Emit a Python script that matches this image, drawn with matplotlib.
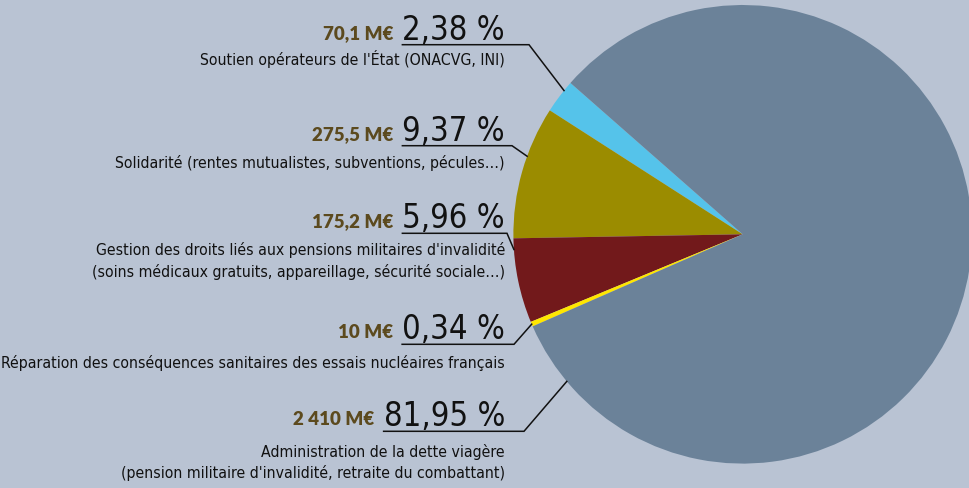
import matplotlib
matplotlib.use('Agg')
import matplotlib.pyplot as plt
from matplotlib import font_manager as fm
import numpy as np

# ---- data ----
descriptions = [
    ["Soutien opérateurs de l'État (ONACVG, INI)"],
    ["Solidarité (rentes mutualistes, subventions, pécules…)"],
    ["Gestion des droits liés aux pensions militaires d'invalidité",
     "(soins médicaux gratuits, appareillage, sécurité sociale…)"],
    ["Réparation des conséquences sanitaires des essais nucléaires français"],
    ["Administration de la dette viagère",
     "(pension militaire d'invalidité, retraite du combattant)"],
]
amounts = [70.1, 275.5, 175.2, 10, 2410]
amount_labels = ["70,1 M€", "275,5 M€", "175,2 M€", "10 M€", "2 410 M€"]
percent_labels = ["2,38 %", "9,37 %", "5,96 %", "0,34 %", "81,95 %"]
colors = ["#55c3ea", "#9b8c00", "#72191b", "#ffe600", "#6b8299"]

# ---- layout (pixels, y from top) ----
W, H = 969, 489
BG = "#b9c3d3"
center_px = (742.7, 235.3)
radius_px = 229.3
start_angle = 138.7
underline_y = [45.7, 146.7, 234.3, 345.3, 432.3]
elbow_x = [529, 512, 507, 514, 524]
anchor_frac = [0.29, 0.38, 0.13, 0.5, 0.055]
desc_offset = [19.5, 21.6, 20.7, 22.7, 24.4]
line_step = 21.7
text_right = 505

# pick a condensed font file if one is installed
cond_file = None
for f in fm.fontManager.ttflist:
    nm = (f.name + ' ' + f.fname).lower()
    if ('narrow' in nm or 'condensed' in nm) and f.style == 'normal' \
            and f.weight in (400, 'normal', 'regular') and 'bold' not in f.fname.lower():
        if 'liberation' in nm:
            cond_file = f.fname
            break
        if cond_file is None:
            cond_file = f.fname
if cond_file:
    cond = fm.FontProperties(fname=cond_file)
    pct_size, desc_size = 23.5, 11.3
else:
    cond = fm.FontProperties(family=['Roboto', 'DejaVu Sans'])
    pct_size, desc_size = 21, 10.5

fig = plt.figure(figsize=(W / 100, H / 100), dpi=100)
fig.patch.set_facecolor(BG)
ax = fig.add_axes([0, 0, 1, 1])
ax.set_facecolor(BG)

cx, cy = center_px[0], H - center_px[1]
wedges, _ = ax.pie(amounts, colors=colors, startangle=start_angle,
                   counterclock=True, radius=radius_px, center=(cx, cy),
                   wedgeprops=dict(linewidth=0))
ax.set_xlim(0, W)
ax.set_ylim(0, H)
ax.set_aspect('equal')
ax.axis('off')

renderer = fig.canvas.get_renderer()
inv = ax.transData.inverted()

for i, w in enumerate(wedges):
    uy = H - underline_y[i]
    pct = ax.text(text_right, uy + 6, percent_labels[i], ha='right', va='baseline',
                  fontproperties=cond, fontsize=pct_size, color='#111111')
    bb = pct.get_window_extent(renderer)
    x0 = inv.transform((bb.x0, bb.y0))[0]
    ax.text(x0 - 9, uy + 7, amount_labels[i], ha='right', va='baseline',
            fontsize=13.5, family=['Lato', 'DejaVu Sans'], fontweight='heavy',
            color='#5c4a1e')
    for j, line in enumerate(descriptions[i]):
        ax.text(text_right, uy - desc_offset[i] - j * line_step, line,
                ha='right', va='baseline', fontproperties=cond,
                fontsize=desc_size, color='#111111')
    theta = np.deg2rad(w.theta1 + anchor_frac[i] * (w.theta2 - w.theta1))
    px_, py_ = cx + radius_px * np.cos(theta), cy + radius_px * np.sin(theta)
    ax.plot([x0, elbow_x[i], px_], [uy, uy, py_], color='#111111', lw=1.1,
            solid_joinstyle='miter')

fig.savefig('out.png', dpi=100, facecolor=BG)
